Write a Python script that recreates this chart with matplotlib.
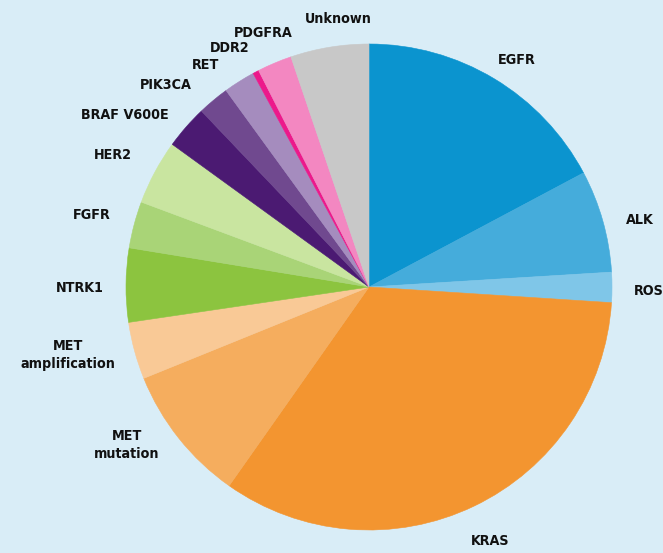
import matplotlib
matplotlib.use("Agg")
import matplotlib.pyplot as plt

categories = ["EGFR", "ALK", "ROS", "KRAS", "MET\nmutation", "MET\namplification",
              "NTRK1", "FGFR", "HER2", "BRAF V600E", "PIK3CA", "RET", "DDR2",
              "PDGFRA", "Unknown"]
values = [17.2, 6.8, 2.0, 33.7, 9.1, 3.8, 4.9, 3.1, 4.3, 2.9, 2.1, 2.1, 0.4, 2.3, 5.2]
colors = ["#0b94cf", "#45acdb", "#7fc6e8", "#f39530", "#f5ad5e", "#f9c996",
          "#8cc43f", "#a9d477", "#c9e5a0", "#4b1a72", "#70498f", "#a58cbe",
          "#ec198b", "#f387c1", "#c8c8c8"]

# label anchor positions in pixel coordinates (x, y from top), alignment
label_pos = [(517, 60, "center"), (640, 220, "center"), (634, 291, "left"),
             (490, 541, "center"), (127, 445, "center"), (68, 355, "center"),
             (80, 288, "center"), (92, 215, "center"), (113, 155, "center"),
             (125, 115, "center"), (166, 85, "center"), (206, 65, "center"),
             (230, 48, "center"), (263, 33, "center"), (338, 19, "center")]

W, H = 663, 553
fig = plt.figure(figsize=(W / 100, H / 100), dpi=100)
fig.patch.set_facecolor("#d9edf7")
ax = fig.add_axes([0, 0, 1, 1])
ax.set_facecolor("#d9edf7")

wedges, _ = ax.pie(values, colors=colors, startangle=90, counterclock=False,
                   center=(369, H - 287), radius=243,
                   wedgeprops=dict(linewidth=0.4))
for w, c in zip(wedges, colors):
    w.set_edgecolor(c)
ax.set_xlim(0, W)
ax.set_ylim(0, H)
ax.set_aspect("equal")
ax.axis("off")

for name, (px, py, ha) in zip(categories, label_pos):
    ax.text(px, H - py, name, ha=ha, va="center", fontsize=10.3,
            fontweight="bold", fontstretch="condensed", color="#111111",
            linespacing=1.35, family=["DejaVu Sans"], clip_on=False)

fig.savefig("out.png", dpi=100, facecolor=fig.get_facecolor())
